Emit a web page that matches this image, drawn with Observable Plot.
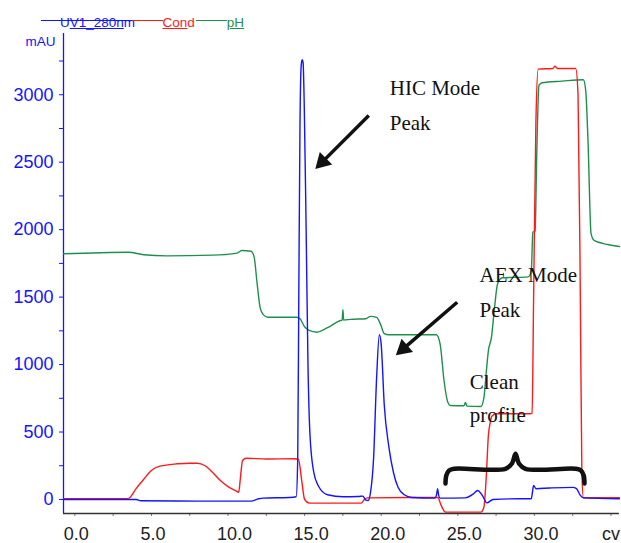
<!DOCTYPE html>
<html><head><meta charset="utf-8">
<script src="https://cdn.jsdelivr.net/npm/d3@7"></script>
<script src="https://cdn.jsdelivr.net/npm/@observablehq/plot@0.6"></script>
<style>
body{margin:0;background:#fff}
#wrap{position:relative;width:621px;height:543px;overflow:hidden;font-family:"Liberation Sans",Arial,sans-serif}
#chart{position:absolute;left:0;top:0}
.lg-line{position:absolute;height:0;top:20px}
.lg-text{position:absolute;top:15.5px;font-size:13.5px;line-height:13px;white-space:nowrap}
.u{text-decoration:underline}
</style></head><body>
<div id="wrap">
  <div id="chart"></div>
  <div class="lg-line" style="left:41px;width:92px;border-top:1.4px solid #1414ff"></div>
  <div class="lg-text" style="left:60px;color:#1414ff">U<span class="u">V1_280n</span>m</div>
  <div class="lg-line" style="left:132px;width:31px;border-top:1.4px solid #ff1a1a"></div>
  <div class="lg-text" style="left:162.5px;color:#ff1a1a"><span class="u">Con</span>d</div>
  <div class="lg-line" style="left:196px;width:31px;border-top:1.4px solid #1f8f4e"></div>
  <div class="lg-text" style="left:226.7px;color:#1f8f4e"><span class="u">pH</span></div>
</div>
<script>
// ---- data (x in CV, y in mAU as displayed) ----
const uvPoints = [
  [-0.74,0],[2.0,0],[4.0,0],[4.3,-10],[8,-12],[11.5,-12],[12.0,5],[12.3,10],[14.0,15],[14.45,20],
  [14.55,300],[14.62,1500],[14.7,2800],[14.78,3220],[14.84,3260],[14.9,3240],[14.98,2900],[15.1,2000],
  [15.22,1000],[15.35,480],[15.6,200],[15.9,100],[16.5,35],[17.5,20],[18.5,22],[18.8,25],[19.0,-5],
  [19.15,-8],[19.3,50],[19.5,300],[19.7,900],[19.88,1221],[20.0,1150],[20.2,700],[20.5,390],[20.8,200],
  [21.1,90],[21.5,35],[22.0,15],[23.5,10],[23.62,40],[23.68,80],[23.75,30],[23.85,10],[25.5,12],
  [26.0,40],[26.3,67],[26.6,30],[26.9,-25],[27.3,0],[29.0,5],[29.8,5],[29.88,60],[29.95,104],[30.1,80],
  [31.0,85],[32.5,90],[32.75,80],[33.0,30],[33.2,12],[35.55,5]
];
const condPoints = [
  [-0.74,5],[3.4,5],[3.6,15],[4.0,80],[4.5,150],[5.0,215],[5.5,245],[6.5,262],[7.5,268],[8.0,269],
  [8.5,250],[9.0,200],[9.5,140],[10.0,95],[10.5,65],[10.7,54],[10.8,150],[10.95,289],[11.2,305],
  [12.5,300],[14.3,302],[14.6,298],[14.8,150],[15.0,0],[15.3,-27],[18.7,-27],[18.9,0],[19.1,12],
  [23.7,15],[23.9,-40],[24.2,-94],[26.5,-94],[26.7,-60],[26.85,150],[27.0,480],[27.1,560],[27.25,620],
  [27.5,635],[29.7,635],[29.85,640],[29.95,1500],[30.1,2800],[30.25,3190],[31.2,3195],[31.35,3212],
  [31.5,3195],[32.7,3195],[32.85,3000],[33.0,1500],[33.1,200],[33.2,13],[35.55,13]
];
const phPoints = [
  [-0.74,1821],[3.5,1833],[4.5,1814],[6,1806],[9,1811],[10.6,1826],[10.9,1846],[11.5,1840],[11.7,1800],
  [11.9,1600],[12.1,1420],[12.3,1370],[12.6,1351],[14.5,1351],[14.7,1340],[15.0,1280],[15.3,1253],
  [15.8,1240],[16.5,1273],[17.3,1325],[17.45,1330],[17.5,1406],[17.55,1330],[18.0,1335],[19.0,1340],
  [19.3,1357],[19.7,1350],[19.95,1300],[20.2,1230],[20.5,1221],[23.6,1221],[23.85,1150],[24.1,882],
  [24.35,720],[24.5,697],[25.4,695],[25.5,720],[25.6,692],[26.5,689],[26.7,750],[26.85,932],[27.0,1105],
  [27.2,1203],[27.4,1425],[27.6,1599],[27.9,1643],[29.6,1650],[29.8,1698],[29.9,1981],[30.05,1990],
  [30.15,2537],[30.3,3069],[30.5,3089],[31.8,3101],[33.2,3111],[33.35,3032],[33.5,2661],[33.7,1970],
  [33.9,1920],[34.8,1890],[35.55,1875]
];
const yTicksMajor = [0,500,1000,1500,2000,2500,3000];
const yTicksMinor = [250,750,1250,1750,2250,2750,3250];
const xTicksAll = [0,2.5,5,7.5,10,12.5,15,17.5,20,22.5,25,27.5,30,32.5,35];
const xTickLabels = [0,5,10,15,20,25,30];
const xUnitTick = [35];
const xUnitLabel = "cv";
const yUnitLabel = "mAU";
const notes = [
  {t:20.56, v:2995, s:"HIC Mode"}, {t:20.56, v:2735, s:"Peak"},
  {t:26.42, v:1611, s:"AEX Mode"}, {t:26.42, v:1356, s:"Peak"},
  {t:25.78, v:821, s:"Clean"}, {t:25.78, v:573, s:"profile"}
];
const arrows = [
  {t1:19.19, v1:2846, t2:15.71, v2:2451, rot:225},
  {t1:24.96, v1:1462, t2:20.93, v2:1067, rot:229}
];
const braceT = [24.197,24.25,24.43,24.78,28.11,28.54,28.77,28.99,29.42,32.68,33.04,33.22,33.27];
const braceV = [118.6,177.9,215,227.6,227.6,266.8,338.7,266.8,227.6,227.6,215,177.9,118.6];

// ---- chart ----
const xDomain = [-0.74, 35.55];
const yDomain = [-104, 3454];
const BLUE = "#1414ff", RED = "#ff1a1a", GREEN = "#1f8f4e";
const toRows = pts => pts.map(([t, v]) => ({t, v}));
const brace = braceT.map((t, i) => ({t, v: braceV[i]}));
const headFrac = 0.13;
const heads = arrows.map(a => ({
  ...a,
  ht: a.t2 + (a.t1 - a.t2) * headFrac,
  hv: a.v2 + (a.v1 - a.v2) * headFrac
}));

const chart = Plot.plot({
  width: 621,
  height: 543,
  marginLeft: 63,
  marginRight: 2.1,
  marginTop: 33,
  marginBottom: 30,
  style: {fontFamily: '"Liberation Sans", Arial, sans-serif', background: "transparent", overflow: "visible"},
  x: {domain: xDomain, label: null},
  y: {domain: yDomain, label: null},
  marks: [
    Plot.ruleX([xDomain[0]], {stroke: BLUE, strokeWidth: 1.3}),
    Plot.axisY({ticks: yTicksMajor, tickSize: 4, tickPadding: 6, tickFormat: d => String(d), color: BLUE, fontSize: 18, label: null}),
    Plot.axisY({ticks: yTicksMinor, tickSize: 4, tickFormat: () => "", color: BLUE, label: null}),
    Plot.axisX({ticks: xTicksAll, tickSize: 3, tickFormat: () => "", stroke: "#777", label: null}),
    Plot.axisX({ticks: xTickLabels, tickSize: 0, tickPadding: 13.5, tickFormat: d => d.toFixed(1),
      textAnchor: "start", dx: -11, fontSize: 18, fill: "#222", label: null}),
    Plot.axisX({ticks: xUnitTick, tickSize: 0, tickPadding: 13.5, tickFormat: () => xUnitLabel,
      fontSize: 18, fill: "#222", label: null}),
    Plot.text([{t: xDomain[0], v: yDomain[1], s: yUnitLabel}], {x: "t", y: "v", text: "s",
      dx: -8, dy: 12.7, textAnchor: "end", lineAnchor: "bottom", fill: BLUE, fontSize: 13.5}),
    Plot.line(toRows(phPoints), {x: "t", y: "v", stroke: GREEN, strokeWidth: 1.4, curve: "monotone-x"}),
    Plot.line(toRows(condPoints), {x: "t", y: "v", stroke: RED, strokeWidth: 1.4, curve: "monotone-x"}),
    Plot.line(toRows(uvPoints), {x: "t", y: "v", stroke: BLUE, strokeWidth: 1.4, curve: "monotone-x"}),
    Plot.ruleY([yDomain[0]], {stroke: "#333", strokeWidth: 1.3}),
    Plot.text(notes, {x: "t", y: "v", text: "s", textAnchor: "start", lineAnchor: "bottom",
      fontFamily: '"Liberation Serif", "Times New Roman", serif', fontSize: 21, fill: "#111"}),
    Plot.link(heads, {x1: "t1", y1: "v1", x2: "ht", y2: "hv", stroke: "#111", strokeWidth: 3.5}),
    Plot.dot(heads, {x: "ht", y: "hv", symbol: "triangle", r: 6.5, fill: "#111", stroke: "none", rotate: "rot"}),
    Plot.line(brace, {x: "t", y: "v", stroke: "#111", strokeWidth: 4.5, curve: "catmull-rom", strokeLinejoin: "round"})
  ]
});
document.getElementById("chart").appendChild(chart);
</script>
</body></html>
